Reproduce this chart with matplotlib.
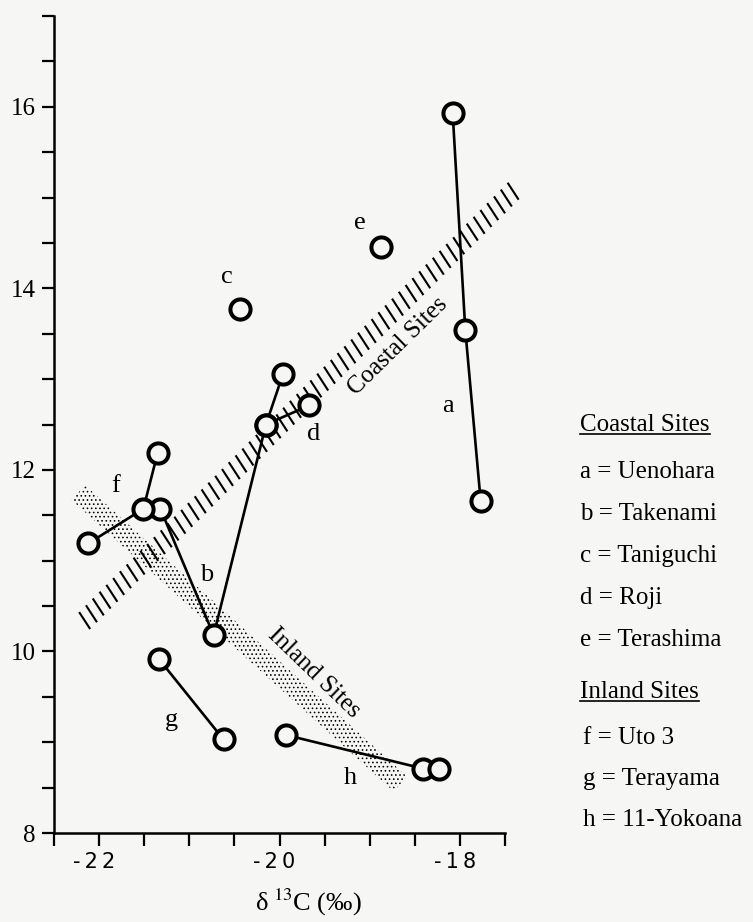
import numpy as np
import matplotlib
matplotlib.use("Agg")
import matplotlib.pyplot as plt
import matplotlib.transforms as mtransforms
from matplotlib.patches import Polygon
from matplotlib.lines import Line2D
from matplotlib.collections import LineCollection
from matplotlib.ticker import MultipleLocator, FuncFormatter

plt.rcParams['font.family'] = ['Liberation Serif', 'DejaVu Serif']
plt.rcParams['mathtext.fontset'] = 'stix'
plt.rcParams['hatch.linewidth'] = 0.65

# delta13C (x) and delta15N (y) per site
a_x = [-18.08, -17.94, -17.77]
a_y = [15.93, 13.54, 11.66]
b_x = [-21.32, -20.73, -20.15]
b_y = [11.57, 10.18, 12.50]
c_x = [-20.44]
c_y = [13.77]
d_x = [-19.96, -20.15, -19.67]
d_y = [13.06, 12.50, 12.71]
e_x = [-18.87]
e_y = [14.46]
f_x = [-22.12, -21.51, -21.35]
f_y = [11.19, 11.57, 12.19]
g_x = [-21.34, -20.62]
g_y = [9.92, 9.03]
h_x = [-19.93, -18.41, -18.23]
h_y = [9.08, 8.71, 8.71]

site_letters = ['a', 'b', 'c', 'd', 'e', 'f', 'g', 'h']
letter_x = [-18.13, -20.81, -20.58, -19.62, -19.11, -21.82, -21.20, -19.21]
letter_y = [12.70, 10.84, 14.13, 12.40, 14.72, 11.82, 9.24, 8.61]

coastal_names = ['Uenohara', 'Takenami', 'Taniguchi', 'Roji', 'Terashima']
inland_names = ['Uto 3', 'Terayama', '11-Yokoana']

# trend bands: ends of the centre line
coastal_band_x = [-22.16, -17.41]
coastal_band_y = [10.34, 15.07]
inland_band_x = [-22.23, -18.66]
inland_band_y = [11.75, 8.54]

W, H = 753, 922
bg = '#f6f6f5'
fig = plt.figure(figsize=(W / 100, H / 100), dpi=100)
fig.patch.set_facecolor(bg)
ax = fig.add_axes([54 / W, 89 / H, 451 / W, 817 / H])
ax.set_facecolor('none')
ax.set_xlim(-22.5, -17.5)
ax.set_ylim(8, 17)

for s in ['top', 'right']:
    ax.spines[s].set_visible(False)
for s in ['left', 'bottom']:
    ax.spines[s].set_linewidth(1.8)

ax.xaxis.set_major_locator(MultipleLocator(2))
ax.xaxis.set_minor_locator(MultipleLocator(0.5))
ax.yaxis.set_major_locator(MultipleLocator(2))
ax.yaxis.set_minor_locator(MultipleLocator(0.5))
ax.tick_params(which='both', direction='out', length=9, width=1.6)
ax.tick_params(axis='x', pad=5)
ax.tick_params(axis='y', pad=4, labelsize=18)


def xfmt(v, pos):
    return '-\u2009' + '\u2009'.join(str(int(round(abs(v)))))


ax.xaxis.set_major_formatter(FuncFormatter(xfmt))
shift = mtransforms.ScaledTranslation(-5 / 100, 0, fig.dpi_scale_trans)
for lab in ax.get_xticklabels():
    lab.set_family('DejaVu Sans')
    lab.set_fontsize(15)
    lab.set_transform(lab.get_transform() + shift)

# coastal band: short strokes, top-left to bottom-right, along the centre line
# (half stroke in data units: about 5.5 px across and 8.5 px down)
sdx, sdy = 5.5 / 90, 8.5 / 91
segs = []
for t in np.linspace(0, 1, 64):
    cx = coastal_band_x[0] + t * (coastal_band_x[1] - coastal_band_x[0])
    cy = coastal_band_y[0] + t * (coastal_band_y[1] - coastal_band_y[0])
    segs.append([(cx - sdx, cy + sdy), (cx + sdx, cy - sdy)])
ax.add_collection(LineCollection(segs, colors='black', linewidths=1.5,
                                 clip_on=False, zorder=1))

# inland band: stippled strip
inv = ax.transData.inverted()
q0 = ax.transData.transform((inland_band_x[0], inland_band_y[0]))
q1 = ax.transData.transform((inland_band_x[1], inland_band_y[1]))
u = (q1 - q0) / np.linalg.norm(q1 - q0)
nrm = np.array([-u[1], u[0]]) * 10
corners = inv.transform(np.array([q0 + nrm, q1 + nrm, q1 - nrm, q0 - nrm]))
ax.add_patch(Polygon(corners, closed=True, fill=False, hatch='....',
                     edgecolor='black', linewidth=0, clip_on=False, zorder=1))

ax.text(-18.69, 13.36, 'Coastal Sites', rotation=44.5, rotation_mode='anchor',
        ha='center', va='center', fontsize=18, zorder=2)
ax.text(-19.62, 9.76, 'Inland Sites', rotation=-44, rotation_mode='anchor',
        ha='center', va='center', fontsize=18, zorder=2)

for xs, ys in [(a_x, a_y), (b_x, b_y), (c_x, c_y), (d_x, d_y),
               (e_x, e_y), (f_x, f_y), (g_x, g_y), (h_x, h_y)]:
    ax.plot(xs, ys, '-', color='black', lw=1.9, marker='o', ms=14.5,
            mew=2.9, mfc=bg, mec='black', zorder=3, clip_on=False)

for lt, lx, ly in zip(site_letters, letter_x, letter_y):
    ax.text(lx, ly, lt, ha='center', va='center', fontsize=19, zorder=4)

fig.text(308 / W, 1 - 902 / H, '\u03b4\u2009$^{13}$C (\u2030)', ha='center',
         va='center', fontsize=19)

# key on the right
key_x = 580 / W
hdr1 = fig.text(key_x, 1 - 425 / H, 'Coastal Sites', va='center', fontsize=18)
for i, (lt, nm) in enumerate(zip(site_letters[:5], coastal_names)):
    fig.text(key_x, 1 - (472 + 42 * i) / H, f'{lt} = {nm}', va='center', fontsize=18)
hdr2 = fig.text(key_x, 1 - 692 / H, 'Inland Sites', va='center', fontsize=18)
for i, (lt, nm) in enumerate(zip(site_letters[5:], inland_names)):
    fig.text(key_x + 3 / W, 1 - (738 + 41 * i) / H, f'{lt} = {nm}', va='center', fontsize=18)

fig.canvas.draw()
r = fig.canvas.get_renderer()
for t in [hdr1, hdr2]:
    bb = t.get_window_extent(r)
    yl = (bb.y0 + 2) / H
    fig.add_artist(Line2D([bb.x0 / W, bb.x1 / W], [yl, yl], color='black',
                          lw=1.2, transform=fig.transFigure))

fig.savefig('out.png', dpi=100, facecolor=bg)
